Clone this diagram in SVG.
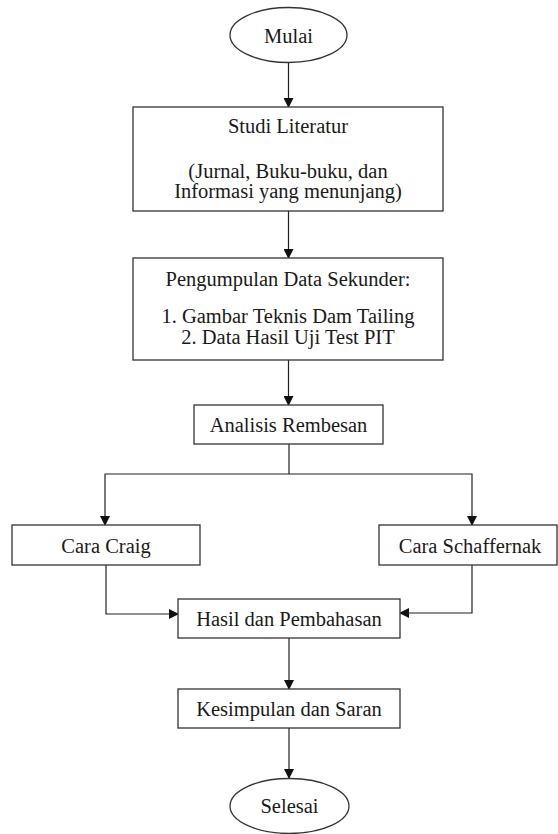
<svg xmlns="http://www.w3.org/2000/svg" width="558" height="834" viewBox="0 0 558 834">
<style>
.n{fill:#fff;stroke:#333;stroke-width:1.3}
.t{font-family:'Liberation Serif','Times New Roman',serif;font-size:20.5px;fill:#1a1a1a;text-anchor:middle}
.c{fill:none;stroke:#222;stroke-width:1.2}
</style>
<defs>
<marker id="a" markerWidth="10" markerHeight="10" refX="9" refY="5" orient="auto" markerUnits="userSpaceOnUse">
<path d="M0,0 L10,5 L0,10 z" fill="#111"/>
</marker>
</defs>
<rect width="558" height="834" fill="#fff"/>
<g id="connectors">
<path class="c" d="M288.5,63 V107" marker-end="url(#a)"/>
<path class="c" d="M288.5,211 V258" marker-end="url(#a)"/>
<path class="c" d="M288.5,360 V405" marker-end="url(#a)"/>
<path class="c" d="M289,444 V474"/>
<path class="c" d="M289,474 H105 V525" marker-end="url(#a)"/>
<path class="c" d="M289,474 H472 V525" marker-end="url(#a)"/>
<path class="c" d="M106,565 V614 H178" marker-end="url(#a)"/>
<path class="c" d="M472,565 V613 H400" marker-end="url(#a)"/>
<path class="c" d="M289,638 V689" marker-end="url(#a)"/>
<path class="c" d="M289,728 V778" marker-end="url(#a)"/>
</g>
<g id="mulai">
<ellipse class="n" cx="288.5" cy="35" rx="58.5" ry="27.5"/>
<text class="t" x="288.5" y="42.5">Mulai</text>
</g>
<g id="studi">
<rect class="n" x="133" y="107" width="310" height="104"/>
<text class="t" x="288" y="132.5">Studi Literatur</text>
<text class="t" x="288" y="177.5">(Jurnal, Buku-buku, dan</text>
<text class="t" x="288" y="198">Informasi yang menunjang)</text>
</g>
<g id="pengumpulan">
<rect class="n" x="133" y="258" width="310" height="102"/>
<text class="t" x="288" y="286">Pengumpulan Data Sekunder:</text>
<text class="t" x="288" y="323">1. Gambar Teknis Dam Tailing</text>
<text class="t" x="288" y="343.5">2. Data Hasil Uji Test PIT</text>
</g>
<g id="analisis">
<rect class="n" x="194" y="405" width="189" height="39"/>
<text class="t" x="288.5" y="432">Analisis Rembesan</text>
</g>
<g id="craig">
<rect class="n" x="12" y="525" width="188" height="40"/>
<text class="t" x="106" y="552.5">Cara Craig</text>
</g>
<g id="schaffernak">
<rect class="n" x="379" y="525" width="178" height="40"/>
<text class="t" x="470" y="552.5">Cara Schaffernak</text>
</g>
<g id="hasil">
<rect class="n" x="178" y="599" width="222" height="39"/>
<text class="t" x="289" y="626">Hasil dan Pembahasan</text>
</g>
<g id="kesimpulan">
<rect class="n" x="178" y="689" width="222" height="39"/>
<text class="t" x="289" y="715.5">Kesimpulan dan Saran</text>
</g>
<g id="selesai">
<ellipse class="n" cx="289.5" cy="806" rx="59.5" ry="27.5"/>
<text class="t" x="289.5" y="812.5">Selesai</text>
</g>
</svg>
